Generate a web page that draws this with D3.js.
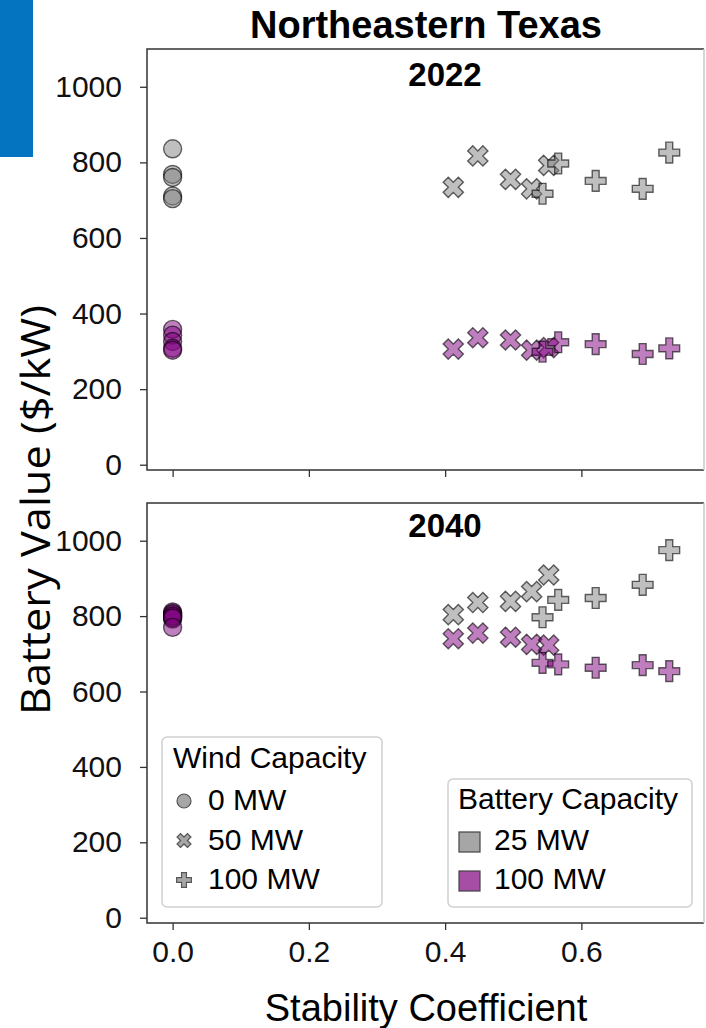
<!DOCTYPE html>
<html>
<head>
<meta charset="utf-8">
<script src="https://cdn.jsdelivr.net/npm/d3@7"></script>
<style>
  html, body { margin: 0; padding: 0; background: #fff; }
  svg { display: block; }
  .tick text { font-family: "Liberation Sans", Arial, sans-serif; font-size: 30px; fill: #111; }
  .tick line { stroke: #333; stroke-width: 1.3; }
</style>
</head>
<body>
<svg id="chart" width="706" height="1028"></svg>
<script>
(function() {
  'use strict';

  // Stability coefficient of each scenario, by wind capacity
  const stab0 = [0, 0, 0, 0, 0];
  const stab50 = [0.412, 0.448, 0.496, 0.527, 0.552];
  const stab100 = [0.543, 0.566, 0.621, 0.690, 0.729];

  // Battery value ($/kW), year / battery capacity / wind capacity
  const v2022b25w0 = [836, 768, 760, 711, 704];
  const v2022b25w50 = [734, 817, 755, 730, 792];
  const v2022b25w100 = [717, 797, 751, 730, 826];
  const v2022b100w0 = [358, 343, 326, 308, 303];
  const v2022b100w50 = [306, 336, 330, 303, 310];
  const v2022b100w100 = [299, 324, 319, 293, 308];

  const v2040b25w0 = [808, 803, 800, 797, 792];
  const v2040b25w50 = [804, 836, 839, 865, 909];
  const v2040b25w100 = [797, 843, 848, 883, 975];
  const v2040b100w0 = [811, 806, 800, 795, 770];
  const v2040b100w50 = [740, 755, 744, 725, 723];
  const v2040b100w100 = [676, 672, 663, 670, 654];

  const years = ['2022', '2040'];
  const windLabels = ['0 MW', '50 MW', '100 MW'];
  const batteryLabels = ['25 MW', '100 MW'];
  const yTicks = [0, 200, 400, 600, 800, 1000];
  const xTicks = [0, 0.2, 0.4, 0.6];

  const FONT = '"Liberation Sans", Arial, sans-serif';
  const batteryColors = ['#808080', '#800080'];
  const windStab = [stab0, stab50, stab100];
  const values = {
    '2022': [[v2022b25w0, v2022b25w50, v2022b25w100], [v2022b100w0, v2022b100w50, v2022b100w100]],
    '2040': [[v2040b25w0, v2040b25w50, v2040b25w100], [v2040b100w0, v2040b100w50, v2040b100w100]]
  };

  const svg = d3.select('#chart');

  // Blue tab in the corner
  svg.append('rect').attr('x', 0).attr('y', 0).attr('width', 33).attr('height', 157).attr('fill', '#0474c0');

  const left = 147, right = 704;
  const panels = [{ top: 49, bottom: 470 }, { top: 503, bottom: 923 }];

  const x = d3.scaleLinear().domain([-0.0376, 0.78]).range([left, right]);

  // Marker path generators
  const circlePath = d3.symbol().type(d3.symbolCircle).size(Math.PI * 9 * 9)();
  const crossPath = d3.symbol().type(d3.symbolCross).size(240)();
  const xPath = d3.symbol().type(d3.symbolCross).size(255)();

  function markerTransform(kind, px, py) {
    return kind === 1 ? `translate(${px},${py}) rotate(45)` : `translate(${px},${py})`;
  }
  function markerPath(kind) {
    return kind === 0 ? circlePath : kind === 1 ? xPath : crossPath;
  }

  years.forEach((year, i) => {
    const p = panels[i];
    const y = d3.scaleLinear().domain([-14, 1100]).range([p.bottom, p.top]);
    const g = svg.append('g');

    // Y axis
    g.append('g')
      .attr('transform', `translate(${left},0)`)
      .call(d3.axisLeft(y).tickValues(yTicks).tickSize(7).tickSizeOuter(0).tickPadding(18).tickFormat(d3.format('d')))
      .call(a => a.select('.domain').remove());

    // X axis
    const xa = g.append('g')
      .attr('transform', `translate(0,${p.bottom})`)
      .call(d3.axisBottom(x).tickValues(xTicks).tickSize(7).tickSizeOuter(0).tickPadding(11).tickFormat(d3.format('.1f')))
      .call(a => a.select('.domain').remove());
    if (i === 0) xa.selectAll('text').remove();

    // Points: 25 MW battery first, then 100 MW; within each circles, X, plus
    const pts = [];
    values[year].forEach((byWind, b) => {
      byWind.forEach((vals, w) => {
        vals.forEach((v, k) => pts.push({ b, w, sx: windStab[w][k], v }));
      });
    });

    const clipId = 'clip' + i;
    svg.append('clipPath').attr('id', clipId)
      .append('rect').attr('x', left).attr('y', p.top).attr('width', right - left).attr('height', p.bottom - p.top);

    g.append('g').attr('clip-path', `url(#${clipId})`)
      .selectAll('path')
      .data(pts)
      .join('path')
      .attr('d', d => markerPath(d.w))
      .attr('transform', d => markerTransform(d.w, x(d.sx), y(d.v)))
      .attr('fill', d => batteryColors[d.b])
      .attr('fill-opacity', 0.5)
      .attr('stroke', '#000')
      .attr('stroke-opacity', 0.6)
      .attr('stroke-width', 1.4);

    // Frame
    g.append('path')
      .attr('d', `M${right},${p.top}H${left}V${p.bottom}H${right}`)
      .attr('fill', 'none').attr('stroke', '#333').attr('stroke-width', 1.5);
    g.append('line')
      .attr('x1', right).attr('x2', right).attr('y1', p.top).attr('y2', p.bottom)
      .attr('stroke', '#c8c8c8').attr('stroke-width', 1.5);

    // Year label
    g.append('text')
      .attr('x', 445).attr('y', i === 0 ? 86 : 537)
      .attr('text-anchor', 'middle')
      .attr('font-family', FONT).attr('font-size', 33).attr('font-weight', 'bold')
      .text(year);
  });

  // Title
  svg.append('text')
    .attr('x', 426).attr('y', 38)
    .attr('text-anchor', 'middle')
    .attr('font-family', FONT).attr('font-size', 38).attr('font-weight', 'bold')
    .text('Northeastern Texas');

  // Axis labels
  svg.append('text')
    .attr('x', 426).attr('y', 1021)
    .attr('text-anchor', 'middle')
    .attr('font-family', FONT).attr('font-size', 38)
    .text('Stability Coefficient');

  svg.append('text')
    .attr('transform', 'translate(50,510) rotate(-90)')
    .attr('text-anchor', 'middle')
    .attr('font-family', '"Open Sans", "Noto Sans", sans-serif').attr('font-size', 40)
    .attr('textLength', 410).attr('lengthAdjust', 'spacingAndGlyphs')
    .text('Battery Value ($/kW)');

  // Legend: wind capacity (marker shape)
  const lg1 = svg.append('g');
  lg1.append('rect').attr('x', 162).attr('y', 737).attr('width', 220).attr('height', 170)
    .attr('rx', 5).attr('fill', '#fff').attr('stroke', '#d0d0d0').attr('stroke-width', 1.5);
  lg1.append('text').attr('x', 173).attr('y', 768)
    .attr('font-family', FONT).attr('font-size', 30).text('Wind Capacity');
  const smallCircle = d3.symbol().type(d3.symbolCircle).size(Math.PI * 7 * 7)();
  const smallCross = d3.symbol().type(d3.symbolCross).size(120)();
  windLabels.forEach((lab, w) => {
    const cy = 801 + w * 39.5;
    lg1.append('path')
      .attr('d', w === 0 ? smallCircle : smallCross)
      .attr('transform', markerTransform(w, 184, cy))
      .attr('fill', '#a6a6a6').attr('stroke', '#555').attr('stroke-width', 1.2);
    lg1.append('text').attr('x', 208).attr('y', cy + 9)
      .attr('font-family', FONT).attr('font-size', 30).text(lab);
  });

  // Legend: battery capacity (colour)
  const lg2 = svg.append('g');
  lg2.append('rect').attr('x', 448).attr('y', 779).attr('width', 244).attr('height', 128)
    .attr('rx', 5).attr('fill', '#fff').attr('stroke', '#d0d0d0').attr('stroke-width', 1.5);
  lg2.append('text').attr('x', 458).attr('y', 809)
    .attr('font-family', FONT).attr('font-size', 30).text('Battery Capacity');
  batteryLabels.forEach((lab, b) => {
    const cy = 842 + b * 39;
    lg2.append('rect').attr('x', 459).attr('y', cy - 10).attr('width', 21).attr('height', 20)
      .attr('fill', b === 0 ? '#a6a6a6' : '#a64da6').attr('stroke', '#444').attr('stroke-width', 1.2);
    lg2.append('text').attr('x', 494).attr('y', cy + 8)
      .attr('font-family', FONT).attr('font-size', 30).text(lab);
  });
})();
</script>
</body>
</html>
